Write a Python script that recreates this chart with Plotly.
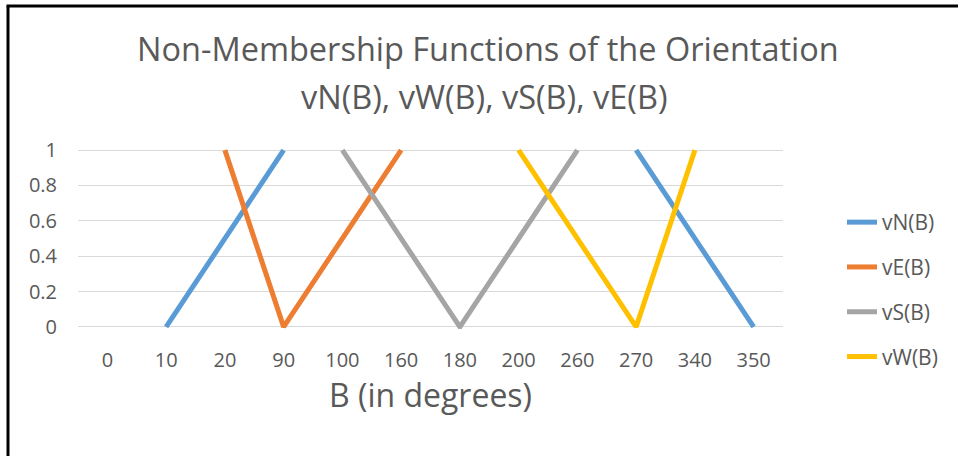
import plotly.graph_objects as go

categories = ["0", "10", "20", "90", "100", "160", "180", "200", "260", "270", "340", "350"]
vN = [None, 0, 0.5, 1, None, None, None, None, None, 1, 0.5, 0]
vE = [None, None, 1, 0, 0.5, 1, None, None, None, None, None, None]
vS = [None, None, None, None, 1, 0.5, 0, 0.5, 1, None, None, None]
vW = [None, None, None, None, None, None, None, 1, 0.5, 0, 1, None]
series = [("vN(B)", vN, "#5B9BD5"), ("vE(B)", vE, "#ED7D31"),
          ("vS(B)", vS, "#A5A5A5"), ("vW(B)", vW, "#FFC000")]
y_ticks = [0, 0.2, 0.4, 0.6, 0.8, 1]
y_labels = ["0", "0.2", "0.4", "0.6", "0.8", "1"]
title_lines = ["Non-Membership Functions of the Orientation", "vN(B), vW(B), vS(B), vE(B)"]

W, H = 958, 456
L, R, T, B = 78, 175, 148, 127
FONT = "Open Sans"
TXT = "#595959"

fig = go.Figure()
for i, (name, vals, col) in enumerate(series):
    fig.add_trace(go.Scatter(x=categories, y=vals, mode="lines", name=name,
                             legendgroup=f"g{i}",
                             line=dict(color=col, width=5), connectgaps=False))

pw, ph = W - L - R, H - T - B
def px_x(p):
    return (p - L) / pw
def px_y(p):
    return (H - B - p) / ph

annotations = [
    dict(text=title_lines[0], xref="paper", yref="paper", x=px_x(488), y=px_y(48),
         xanchor="center", yanchor="middle", showarrow=False,
         font=dict(size=32.5, color=TXT, family=FONT)),
    dict(text=title_lines[1], xref="paper", yref="paper", x=px_x(484), y=px_y(96),
         xanchor="center", yanchor="middle", showarrow=False,
         font=dict(size=32.5, color=TXT, family=FONT)),
]

fig.update_layout(
    width=W, height=H,
    margin=dict(l=L, r=R, t=T, b=B),
    paper_bgcolor="white", plot_bgcolor="white",
    font=dict(family=FONT, color=TXT, size=20),
    xaxis=dict(type="category", categoryorder="array", categoryarray=categories,
               range=[-0.5, len(categories) - 0.5], showgrid=False, zeroline=False,
               showline=False, ticks="", ticklabelstandoff=17,
               tickfont=dict(size=20, color=TXT),
               title=dict(text="B (in degrees)", font=dict(size=32, color=TXT), standoff=2)),
    yaxis=dict(range=[-0.012, 1.012], tickvals=y_ticks, ticktext=y_labels,
               showgrid=True, gridcolor="#D9D9D9", gridwidth=1, zeroline=False,
               showline=False, ticks="", ticklabelstandoff=20,
               tickfont=dict(size=20, color=TXT)),
    legend=dict(x=px_x(842), xanchor="left", y=px_y(202), yanchor="top",
                tracegroupgap=14.5, traceorder="grouped", maxheight=320,
                font=dict(size=21, color=TXT), bgcolor="rgba(0,0,0,0)"),
    showlegend=True,
    annotations=annotations,
    shapes=[
        dict(type="line", xref="paper", yref="paper", x0=px_x(8), x1=px_x(8),
             y0=px_y(6), y1=px_y(470), line=dict(color="black", width=3)),
        dict(type="line", xref="paper", yref="paper", x0=px_x(6.5), x1=px_x(970),
             y0=px_y(6), y1=px_y(6), line=dict(color="black", width=3)),
    ],
)

fig.write_html("out.html")
